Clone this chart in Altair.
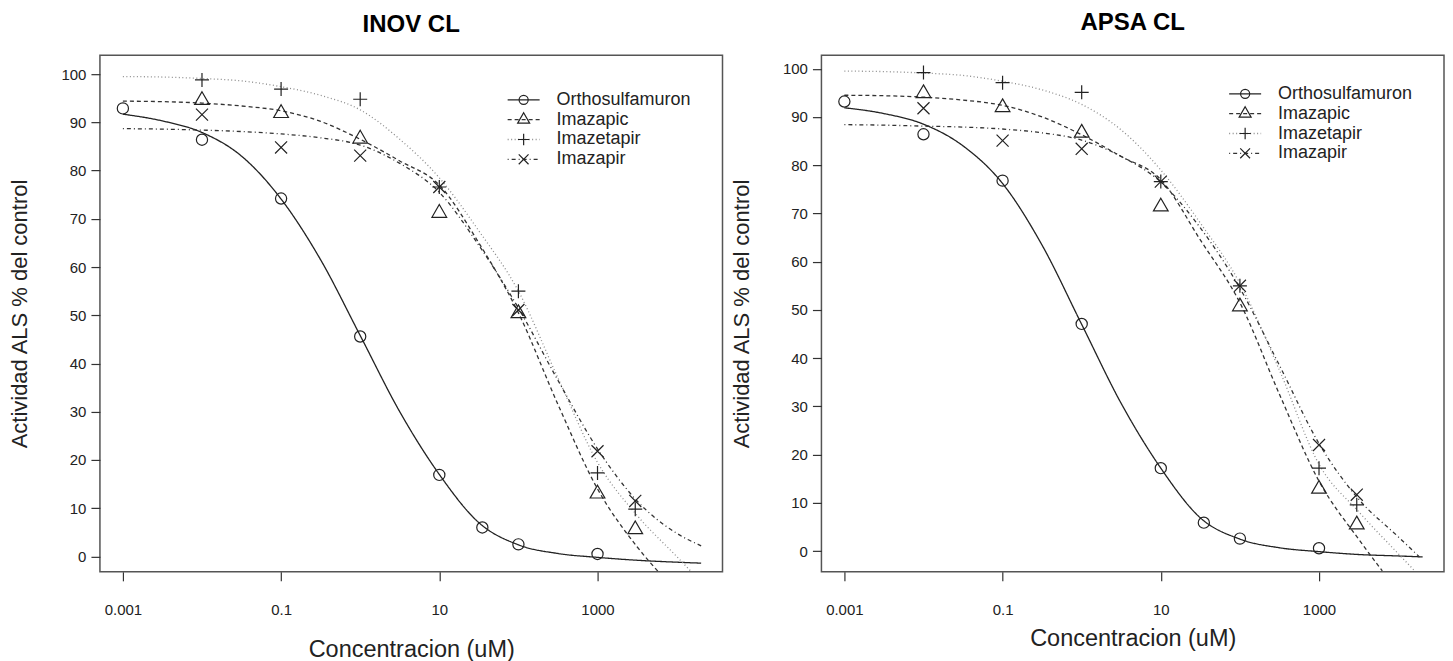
import altair as alt
import pandas as pd

# ---------------- data ----------------
series = ["Orthosulfamuron", "Imazapic", "Imazetapir", "Imazapir"]
panel_titles = ["INOV CL", "APSA CL"]
x_ticks = [0.001, 0.1, 10, 1000]
y_ticks = [0, 10, 20, 30, 40, 50, 60, 70, 80, 90, 100]

conc_ortho = [0.001, 0.01, 0.1, 1, 10, 35, 100, 1000]
conc_herb = [0.01, 0.1, 1, 10, 100, 1000, 3000]

# observed points (ALS activity, % of control)
inov_ortho = [92.9, 86.4, 74.2, 45.6, 16.9, 6.0, 2.5, 0.5]
inov_imazapic = [94.6, 91.9, 86.6, 71.2, 50.4, 13.0, 5.6]
inov_imazetapir = [98.8, 96.9, 94.8, 76.6, 55.0, 17.3, 9.8]
inov_imazapir = [91.6, 84.8, 83.1, 76.6, 51.1, 21.8, 11.5]

apsa_ortho = [93.2, 86.4, 76.8, 47.1, 17.2, 5.9, 2.6, 0.6]
apsa_imazapic = [94.9, 92.0, 86.7, 71.4, 50.7, 12.9, 5.5]
apsa_imazetapir = [99.2, 97.1, 95.1, 76.6, 55.0, 17.2, 9.6]
apsa_imazapir = [91.8, 85.1, 83.4, 76.6, 55.0, 22.0, 11.7]

# fitted curves (log10 concentration -> value)
grid = [-3, -2.5, -2, -1.5, -1, -0.5, 0, 0.5, 1, 1.5, 2, 2.5, 3, 3.5, 4]

inov_ortho_log = grid + [4.31]
inov_ortho_fit = [91.7, 90.3, 87.9, 83.0, 74.1, 61.5, 45.8, 30.0, 17.0, 7.0, 2.4, 0.6, -0.2, -0.8, -1.2, -1.4]
inov_imazapic_log = grid[:14] + [3.82]
inov_imazapic_fit = [94.4, 94.3, 94.0, 93.4, 92.4, 90.2, 86.5, 82.0, 77.0, 65.0, 50.5, 31.5, 14.0, 2.0, -4.1]
inov_imazetapir_log = grid + [4.24]
inov_imazetapir_fit = [99.5, 99.4, 99.1, 98.6, 97.4, 95.6, 92.6, 86.5, 78.5, 67.5, 55.0, 37.0, 19.5, 8.5, 0.0, -4.1]
inov_imazapir_log = grid + [4.31]
inov_imazapir_fit = [88.7, 88.6, 88.4, 88.1, 87.6, 86.8, 85.3, 81.5, 75.5, 64.5, 51.5, 36.5, 22.3, 11.5, 4.8, 2.2]

apsa_ortho_log = grid + [4.31]
apsa_ortho_fit = [91.9, 90.7, 88.5, 84.0, 76.2, 63.4, 47.0, 30.6, 17.2, 6.9, 2.5, 0.7, -0.1, -0.7, -1.0, -1.2]
apsa_imazapic_log = grid[:14] + [3.8]
apsa_imazapic_fit = [94.5, 94.4, 94.1, 93.5, 92.4, 90.0, 86.3, 81.8, 77.0, 64.5, 51.5, 32.5, 14.5, 2.5, -4.1]
apsa_imazetapir_log = grid + [4.21]
apsa_imazetapir_fit = [99.5, 99.4, 99.1, 98.6, 97.4, 95.6, 92.6, 87.3, 79.0, 68.0, 55.5, 37.5, 18.0, 8.2, -0.5, -4.1]
apsa_imazapir_log = grid + [4.27]
apsa_imazapir_fit = [88.4, 88.3, 88.1, 87.9, 87.5, 86.7, 85.2, 81.8, 76.5, 67.0, 54.5, 38.5, 22.3, 10.8, 3.0, -1.2]

# ---------------- tables ----------------
def points_df(vals):
    rows = []
    for s, v in zip(series, vals):
        xs = conc_ortho if s == "Orthosulfamuron" else conc_herb
        rows += [{"series": s, "conc": c, "value": y} for c, y in zip(xs, v)]
    return pd.DataFrame(rows)


def curves_df(logs, fits):
    rows = []
    for s, lg, fv in zip(series, logs, fits):
        rows += [{"series": s, "conc": 10 ** l, "value": y} for l, y in zip(lg, fv)]
    return pd.DataFrame(rows)


inov_pts = points_df([inov_ortho, inov_imazapic, inov_imazetapir, inov_imazapir])
apsa_pts = points_df([apsa_ortho, apsa_imazapic, apsa_imazetapir, apsa_imazapir])
inov_cur = curves_df(
    [inov_ortho_log, inov_imazapic_log, inov_imazetapir_log, inov_imazapir_log],
    [inov_ortho_fit, inov_imazapic_fit, inov_imazetapir_fit, inov_imazapir_fit])
apsa_cur = curves_df(
    [apsa_ortho_log, apsa_imazapic_log, apsa_imazetapir_log, apsa_imazapir_log],
    [apsa_ortho_fit, apsa_imazapic_fit, apsa_imazetapir_fit, apsa_imazapir_fit])
legend_df = pd.DataFrame({"series": series})

# ---------------- styles ----------------
FONT = "Liberation Sans"
INK = "#222222"
shape_paths = [
    "M0.8,0A0.8,0.8 0 1,1 -0.8,0A0.8,0.8 0 1,1 0.8,0Z",
    "M0,-1.21L1.05,0.61L-1.05,0.61Z",
    "M-1,0L1,0M0,-1L0,1",
    "M-0.86,-0.86L0.86,0.86M-0.86,0.86L0.86,-0.86",
]
dashes = [[1, 0], [4, 3], [1, 2.5], [1, 3, 4, 3]]
line_colors = ["#222222", "#333333", "#8c8c8c", "#333333"]

shape_enc = alt.Shape("series:N", scale=alt.Scale(domain=series, range=shape_paths), legend=None)
dash_enc = alt.StrokeDash("series:N", scale=alt.Scale(domain=series, range=dashes), legend=None)
color_enc = alt.Color("series:N", scale=alt.Scale(domain=series, range=line_colors), legend=None)

W, H = 623, 517
x_scale = alt.Scale(type="log", domain=[10 ** -3.29, 10 ** 4.58], nice=False)


def panel(title, pts, cur, ydom, title_offset, xtitle_pad, legend_range):
    x_enc = alt.X("conc:Q", scale=x_scale,
                  axis=alt.Axis(values=x_ticks, format="~g", title="Concentracion (uM)",
                                tickSize=9, labelPadding=22, titlePadding=xtitle_pad,
                                titleFontSize=23.5))
    y_enc = alt.Y("value:Q", scale=alt.Scale(domain=ydom, nice=False, zero=False),
                  axis=alt.Axis(values=y_ticks, title="Actividad ALS % del control",
                                tickSize=9, labelPadding=5, titlePadding=29, titleFontSize=22))
    lines = alt.Chart(cur).mark_line(clip=True, interpolate="monotone", strokeWidth=1.3).encode(
        x=x_enc, y=y_enc, strokeDash=dash_enc, color=color_enc, detail="series:N")
    points = alt.Chart(pts).mark_point(filled=False, size=196, strokeWidth=1.2, color=INK, opacity=1).encode(
        x=x_enc, y=y_enc, shape=shape_enc)
    main = alt.layer(lines, points)

    ly = alt.Y("series:N", scale=alt.Scale(type="point", domain=series, range=legend_range, padding=0), axis=None)
    leg_rule = alt.Chart(legend_df).mark_rule(strokeWidth=1.3).encode(
        x=alt.value(408), x2=alt.value(440), y=ly, strokeDash=dash_enc, color=color_enc)
    leg_pt = alt.Chart(legend_df).mark_point(filled=False, size=130, strokeWidth=1.2, color=INK, opacity=1).encode(
        x=alt.value(424), y=ly, shape=shape_enc)
    leg_txt = alt.Chart(legend_df).mark_text(align="left", baseline="middle", fontSize=18, font=FONT, color=INK).encode(
        x=alt.value(457), y=ly, text="series:N")
    return alt.layer(main, leg_rule, leg_pt, leg_txt).resolve_scale(y="independent").properties(
        width=W, height=H,
        view=alt.ViewBackground(stroke="#555555", strokeWidth=1.5),
        title=alt.TitleParams(title, fontSize=24, fontWeight="bold", font=FONT, color="black",
                              anchor="middle", offset=title_offset))


left = panel(panel_titles[0], inov_pts, inov_cur, [-3.2, 103.93], 18, 20, [44.7, 104.2])
right = panel(panel_titles[1], apsa_pts, apsa_cur, [-4.29, 102.8], 20, 9, [38.7, 98.2])

chart = alt.hconcat(left, right, spacing=6).properties(
    padding={"top": 2, "left": 0, "right": 0, "bottom": 0}
).configure_view(
    stroke="#555555", strokeWidth=1.5
).configure_axis(
    labelFont=FONT, labelFontSize=15, labelColor=INK, tickColor="#333333", tickWidth=1.2,
    domain=False, grid=False, titleFont=FONT, titleFontWeight="normal",
    titleColor=INK
)

chart.save("out.html", embed_options={"renderer": "svg", "actions": False})
